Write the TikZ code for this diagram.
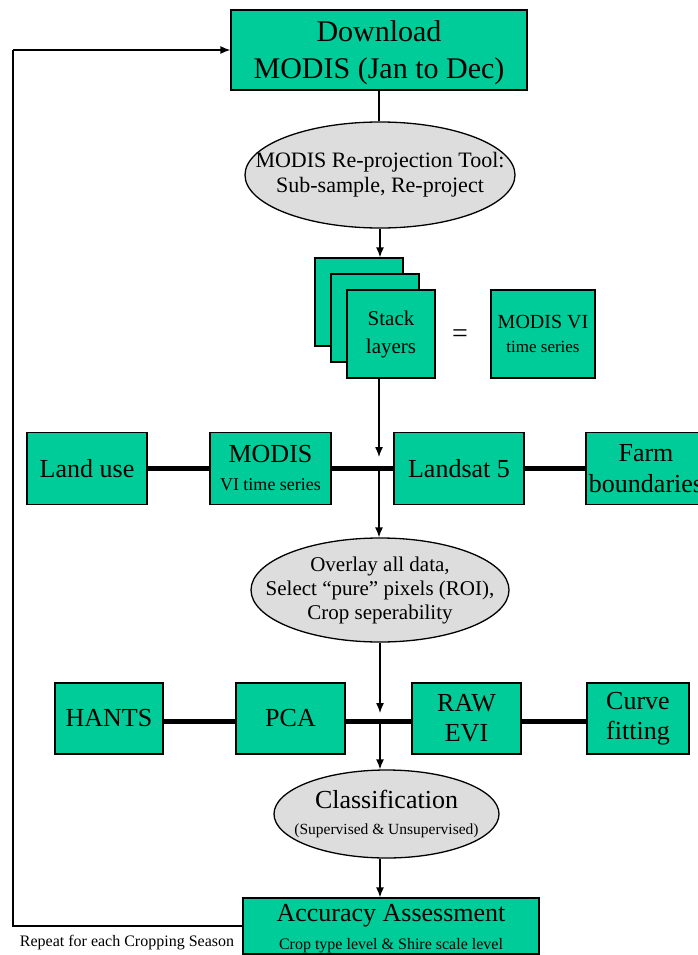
\documentclass[tikz,border=0pt]{standalone}
\usepackage{fontspec}
\setmainfont{Liberation Serif}
\usetikzlibrary{shapes.geometric,arrows.meta}
\definecolor{boxgreen}{HTML}{00CC99}
\definecolor{ellgray}{HTML}{DDDDDD}
\newcommand{\fsz}[2]{\fontsize{#1}{#2}\selectfont}
\tikzset{
  gbox/.style={draw=black, line width=1.3pt, fill=boxgreen, inner sep=0pt, align=center},
  gell/.style={ellipse, draw=black, line width=1.3pt, fill=ellgray, inner sep=0pt},
  etext/.style={inner sep=0pt, align=center},
  arr/.style={line width=1.3pt, -{Latex[length=10pt,width=8pt]}},
  thin/.style={line width=1.3pt},
  thick bar/.style={line width=5pt}
}
\begin{document}
\begin{tikzpicture}[x=1pt,y=-1pt]
\useasboundingbox (0,0) rectangle (698,955);
\clip (0,0) rectangle (698,955);
% top box
\node[gbox, minimum width=296pt, minimum height=80pt, font=\fsz{30}{37}] (top) at (379,50)
  {\rule{0pt}{26pt}Download\\MODIS (Jan to Dec)};
% ellipse 1
\node[gell, minimum width=270pt, minimum height=106pt] (ell1) at (380,175) {};
\node[etext, font=\fsz{22}{25}] (ell1t) at (ell1.center)
  {MODIS Re-projection Tool:\\Sub-sample, Re-project};
% stack
\node[gbox, minimum width=88pt, minimum height=88pt] (stack1) at (359,302) {};
\node[gbox, minimum width=88pt, minimum height=88pt] (stack2) at (375,318) {};
\node[gbox, minimum width=88pt, minimum height=88pt, font=\fsz{21}{28}] (stack3) at (391,334)
  {Stack\\layers};
\node[font=\fsz{28}{30}] (eq) at (460,336) {=};
\node[gbox, minimum width=104pt, minimum height=88pt, font=\fsz{20}{24}] (vi) at (543,334)
  {MODIS VI\\{\fsz{17}{20}time series}};
% row 1
\node[gbox, minimum width=120pt, minimum height=72pt, font=\fsz{26}{30}] (landuse) at (87,468.5)
  {Land use};
\node[gbox, minimum width=121pt, minimum height=72pt, font=\fsz{26}{28}] (modis) at (270.5,468.5)
  {MODIS\\{\fsz{18}{20}VI time series}};
\node[gbox, minimum width=130pt, minimum height=72pt, font=\fsz{26}{30}] (landsat) at (459,468.5)
  {Landsat 5};
\node[gbox, minimum width=120pt, minimum height=72pt, font=\fsz{26}{31}] (farm) at (646,468.5)
  {Farm\\boundaries};
\draw[thick bar] (landuse.east) -- (modis.west);
\draw[thick bar] (modis.east) -- (landsat.west);
\draw[thick bar] (landsat.east) -- (farm.west);
\coordinate (a1) at (379,457);
\coordinate (j1) at (379,468.5);
% ellipse 2
\node[gell, minimum width=258pt, minimum height=104pt] (ell2) at (380,590) {};
\node[etext, font=\fsz{21}{24}] (ell2t) at (ell2.center)
  {Overlay all data,\\Select “pure” pixels (ROI),\\Crop seperability};
% row 2
\node[gbox, minimum width=108pt, minimum height=71pt, font=\fsz{26}{30}] (hants) at (109,718.5)
  {HANTS};
\node[gbox, minimum width=109pt, minimum height=71pt, font=\fsz{26}{30}] (pca) at (290.5,718.5)
  {PCA};
\node[gbox, minimum width=109pt, minimum height=71pt, font=\fsz{26}{30}] (raw) at (466.5,718.5)
  {RAW\\EVI};
\node[gbox, minimum width=102pt, minimum height=71pt, font=\fsz{26}{30}] (curve) at (638,718.5)
  {Curve\\fitting};
\draw[thick bar] ([yshift=-3pt]hants.east) -- ([yshift=-3pt]pca.west);
\draw[thick bar] ([yshift=-3pt]pca.east) -- ([yshift=-3pt]raw.west);
\draw[thick bar] ([yshift=-3pt]raw.east) -- ([yshift=-3pt]curve.west);
\coordinate (a2) at (380,713);
\coordinate (j2) at (380,722);
% ellipse 3
\node[gell, minimum width=225pt, minimum height=88pt] (ell3) at (386.5,814) {};
\node[etext, font=\fsz{26}{26}] (ell3t) at (ell3.center)
  {Classification\\{\fsz{15.5}{17}(Supervised \& Unsupervised)}};
% accuracy
\node[gbox, minimum width=296pt, minimum height=56pt, font=\fsz{26}{28}] (acc) at (391,926)
  {\rule{0pt}{22pt}Accuracy Assessment\\{\fsz{16}{18}Crop type level \& Shire scale level}};
\node[inner sep=0pt, font=\fsz{16}{18}] (rep) at (127,943) {Repeat for each Cropping Season};
% connectors
\draw[thin] (top.south) -- (top.south |- ell1.north);
\draw[arr] (ell1.south) -- (ell1.south |- stack1.north);
\draw[arr] (a1 |- stack3.south) -- (a1);
\draw[arr] (j1) -- (j1 |- ell2.north);
\draw[arr] (ell2.south) -- (a2);
\draw[arr] (j2) -- (j2 |- ell3.north);
\draw[arr] (j2 |- ell3.south) -- (j2 |- acc.north);
% loop
\coordinate (lb) at (13,926);
\coordinate (lt) at (13,50);
\draw[thin] (acc.west) -- (lb) -- (lt);
\draw[arr] (lt) -- (top.west);
\end{tikzpicture}
\end{document}
